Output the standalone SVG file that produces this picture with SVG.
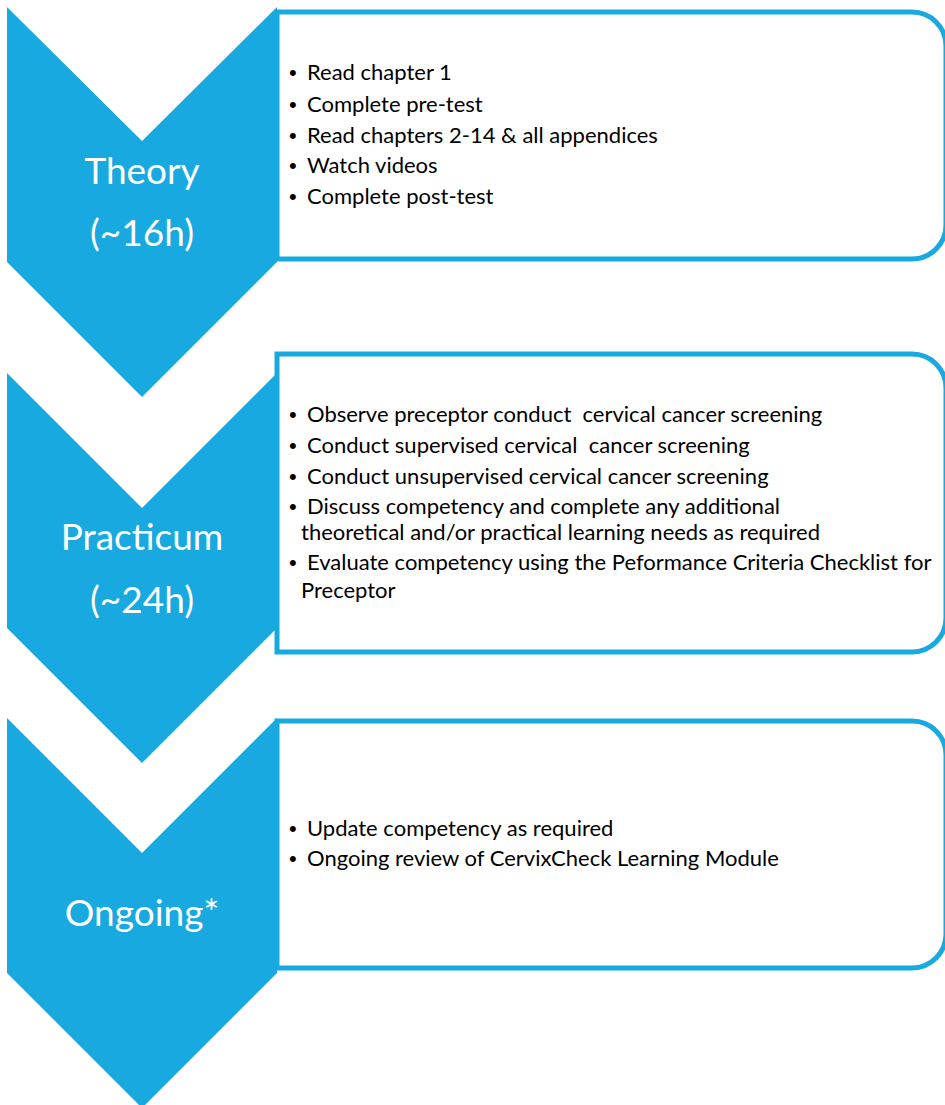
<svg xmlns="http://www.w3.org/2000/svg" width="945" height="1105" viewBox="0 0 945 1105">
<style>
.chev{fill:#18A9E0;}
.box{fill:#FFFFFF;stroke:#18A9E0;stroke-width:5;}
.lbl{font-family:Lato,"Liberation Sans",sans-serif;font-size:37px;fill:#FFFFFF;text-anchor:middle;}
.txt{font-family:Lato,"Liberation Sans",sans-serif;font-size:22px;fill:#000000;}
.bul{font-family:"Liberation Sans",sans-serif;font-size:22px;fill:#000000;}
</style>
<rect width="945" height="1105" fill="#FFFFFF"/>
<g id="theory">
<polygon class="chev" points="7,7 142,141 277,7 277,262 142,397 7,262"/>
<path class="box" d="M277,12 H912 A34,34 0 0 1 946,46 V225 A34,34 0 0 1 912,259 H277 Z"/>
<text class="lbl" x="142" y="184">Theory</text>
<text class="lbl" x="142" y="246">(~16h)</text>
<text class="bul" x="289" y="80">•</text><text class="txt" x="307" y="80">Read chapter 1</text>
<text class="bul" x="289" y="112">•</text><text class="txt" x="307" y="112">Complete pre-test</text>
<text class="bul" x="289" y="143">•</text><text class="txt" x="307" y="143">Read chapters 2-14 &amp; all appendices</text>
<text class="bul" x="289" y="173">•</text><text class="txt" x="307" y="173">Watch videos</text>
<text class="bul" x="289" y="204">•</text><text class="txt" x="307" y="204">Complete post-test</text>
</g>
<g id="practicum">
<polygon class="chev" points="7,373 142,508 277,373 277,628 142,763 7,628"/>
<path class="box" d="M277,354 H912 A34,34 0 0 1 946,388 V618 A34,34 0 0 1 912,652 H277 Z"/>
<text class="lbl" x="142" y="550">Practicum</text>
<text class="lbl" x="142" y="613">(~24h)</text>
<text class="bul" x="289" y="422">•</text><text class="txt" x="307" y="422" xml:space="preserve">Observe preceptor conduct  cervical cancer screening</text>
<text class="bul" x="289" y="453">•</text><text class="txt" x="307" y="453" xml:space="preserve">Conduct supervised cervical  cancer screening</text>
<text class="bul" x="289" y="484">•</text><text class="txt" x="307" y="484">Conduct unsupervised cervical cancer screening</text>
<text class="bul" x="289" y="514">•</text><text class="txt" x="307" y="514">Discuss competency and complete any additional</text>
<text class="txt" x="301" y="540">theoretical and/or practical learning needs as required</text>
<text class="bul" x="289" y="570">•</text><text class="txt" x="307" y="570">Evaluate competency using the Peformance Criteria Checklist for</text>
<text class="txt" x="301" y="598">Preceptor</text>
</g>
<g id="ongoing">
<polygon class="chev" points="7,718 142,853 277,718 277,973 142,1108 7,973"/>
<path class="box" d="M277,721 H912 A34,34 0 0 1 946,755 V934 A34,34 0 0 1 912,968 H277 Z"/>
<text class="lbl" x="142" y="926">Ongoing*</text>
<text class="bul" x="289" y="836">•</text><text class="txt" x="307" y="836">Update competency as required</text>
<text class="bul" x="289" y="866">•</text><text class="txt" x="307" y="866">Ongoing review of CervixCheck Learning Module</text>
</g>
<g id="connectors"></g>
</svg>
